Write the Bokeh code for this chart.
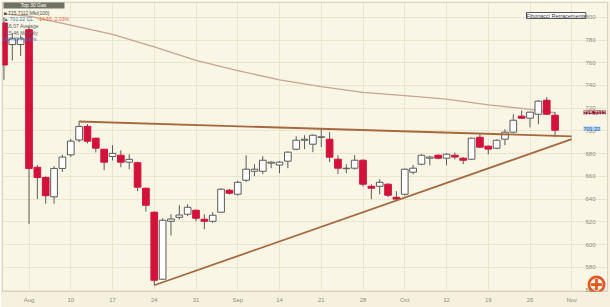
from bokeh.plotting import figure
from bokeh.models import Range1d, FixedTicker, Label, BoxAnnotation, ColumnDataSource
from bokeh.embed import file_html
from bokeh.resources import INLINE

# trading days (weekdays) from Jul 29 to Nov 2
days = ["Jul 29", "Jul 30", "Jul 31",
        "Aug 3", "Aug 4", "Aug 5", "Aug 6", "Aug 7",
        "Aug 10", "Aug 11", "Aug 12", "Aug 13", "Aug 14",
        "Aug 17", "Aug 18", "Aug 19", "Aug 20", "Aug 21",
        "Aug 24", "Aug 25", "Aug 26", "Aug 27", "Aug 28",
        "Aug 31", "Sep 1", "Sep 2", "Sep 3", "Sep 4",
        "Sep 7", "Sep 8", "Sep 9", "Sep 10", "Sep 11",
        "Sep 14", "Sep 15", "Sep 16", "Sep 17", "Sep 18",
        "Sep 21", "Sep 22", "Sep 23", "Sep 24", "Sep 25",
        "Sep 28", "Sep 29", "Sep 30", "Oct 1", "Oct 2",
        "Oct 5", "Oct 6", "Oct 7", "Oct 8", "Oct 9",
        "Oct 12", "Oct 13", "Oct 14", "Oct 15", "Oct 16",
        "Oct 19", "Oct 20", "Oct 21", "Oct 22", "Oct 23",
        "Oct 26", "Oct 27", "Oct 28", "Oct 29", "Oct 30",
        "Nov 2"]

opens = [795, 776, 776,
         789, 668, 659, 642, 667,
         679, 692, 704, 693.6, 683.9,
         677.5, 678.6, 672.5, 672, 649.6,
         628.5, 569.5, 620.5, 624, 626.7,
         630.2, 622.3, 620.5, 628.5, 647.8,
         644.3, 656.6, 664.5, 664.5, 671.6,
         670, 673.4, 683.9, 691.8, 688.3,
         694.4, 692.7, 675.1, 666.8, 667.2,
         674.2, 651.3, 651.3, 653.1, 641.6,
         644.3, 663.7, 670.7, 676, 678.6,
         676, 678.6, 676, 675.1, 694.4,
         686.6, 684.8, 692.7, 698.9, 713,
         711.2, 714.7, 727, 713.8]
highs = [800, 786, 784,
         792, 670, 660, 669, 679,
         693, 708.6, 706, 694, 684,
         687.4, 683, 679.5, 673, 650,
         629, 623, 626.7, 634.6, 635.5,
         631, 626.7, 628.5, 649.5, 649,
         656, 678.6, 670.7, 677.7, 673.4,
         673.5, 682, 695.3, 696.2, 697,
         702, 699, 678.6, 670.7, 678.6,
         675, 653, 657.5, 654, 647,
         667, 670, 679.5, 678, 679.5,
         680.3, 681, 677, 694, 697,
         687, 692.5, 701.5, 714.8, 718,
         717, 727, 729.7, 716.5]
lows = [745, 762, 766,
        618, 640, 636, 636, 664,
        677, 690, 689, 681, 665.5,
        674, 668, 666.3, 647, 629,
        564.2, 569, 608, 622, 625,
        620.5, 613.5, 619, 628, 644,
        643, 655, 660.2, 662, 667.2,
        662.8, 667.2, 683, 683.9, 681.3,
        685.7, 672.5, 662, 662.8, 666,
        651, 640, 644.3, 641.6, 639,
        643, 661.8, 669.8, 669.8, 675,
        669.8, 675, 670.7, 674.5, 685,
        679.5, 684, 687.4, 698, 710.5,
        703.2, 705.8, 714, 694.5]
closes = [758, 781, 781,
          667, 659, 643, 667, 677,
          691, 704, 691, 684.8, 672.5,
          680.3, 672.5, 675, 650.5, 634.6,
          568.6, 621.4, 622.5, 626, 632.8,
          623.1, 620.5, 625.8, 648.7, 645.2,
          654.8, 666.3, 666.3, 674.2, 672.5,
          672.5, 681.3, 691.8, 692.7, 696.2,
          694.8, 676.9, 667.2, 667.2, 674.2,
          653.1, 649.6, 654.8, 643.4, 640.0,
          666.3, 667.2, 678.6, 677, 676,
          679.5, 677, 674.2, 693.6, 685.7,
          684, 691.8, 698.9, 709.4, 711.2,
          716.5, 726.2, 714.7, 700.6]

# moving average, read at sample days
ma_days = ["Jul 29", "Aug 3", "Aug 10", "Aug 17", "Aug 24", "Aug 31", "Sep 7",
           "Sep 14", "Sep 21", "Sep 28", "Oct 5", "Oct 12", "Oct 19", "Oct 26", "Oct 29"]
ma_vals = [803, 801, 793, 785, 774, 762, 753, 745, 739, 734, 731, 728, 723, 719, 716]

# trend lines (day, price)
resist_days = ["Aug 11", "Nov 2"]
resist_vals = [708.3, 695.2]
support_days = ["Aug 24", "Nov 2"]
support_vals = [564.2, 692.7]

tick_days = ["Aug 3", "Aug 10", "Aug 17", "Aug 24", "Aug 31", "Sep 7", "Sep 14",
             "Sep 21", "Sep 28", "Oct 5", "Oct 12", "Oct 19", "Oct 26", "Nov 2"]
tick_labels = ["Aug", "10", "17", "24", "31", "Sep", "14", "21", "28", "Oct",
               "12", "19", "26", "Nov"]
price_ticks = [560, 580, 600, 620, 640, 660, 680, 700, 720, 740, 760, 780, 800]

last_mkt = "715.7112"
last_cl = "701.22"

pos = {d: i for i, d in enumerate(days)}

UP_FILL = "#ffffff"
DOWN_FILL = "#d3123c"
FONT = "Liberation Sans"

p = figure(width=610, height=307, output_backend="svg", toolbar_location=None,
           x_range=Range1d(-0.174, 72.28), y_range=Range1d(558.7, 813.0),
           y_axis_location="right",
           min_border_left=2, min_border_top=2, min_border_right=3, min_border_bottom=16)
p.background_fill_color = "#faf6e6"
p.border_fill_color = "#f6f1de"
p.outline_line_color = "#d9d3bd"

n = len(opens)
xs = list(range(n))
src = ColumnDataSource(dict(
    x=xs,
    top=[max(o, c) for o, c in zip(opens, closes)],
    bottom=[min(o, c) for o, c in zip(opens, closes)],
    high=highs, low=lows,
    fill=[UP_FILL if c >= o else DOWN_FILL for o, c in zip(opens, closes)],
    line=["#5a5a5a" if c >= o else DOWN_FILL for o, c in zip(opens, closes)],
))

p.line([pos[d] for d in ma_days], ma_vals, line_color="#c7a48e", line_width=1.3)
p.segment(x0="x", y0="high", x1="x", y1="low", source=src, line_color="#5a5a5a", line_width=1)
p.vbar(x="x", width=0.8, top="top", bottom="bottom", fill_color="fill",
       line_color="line", line_width=1, source=src)
p.line([pos[d] for d in resist_days], resist_vals, line_color="#a5693d", line_width=1.8)
p.line([pos[d] for d in support_days], support_vals, line_color="#a5693d", line_width=1.8)

tx = [pos[d] for d in tick_days]
p.xaxis.ticker = FixedTicker(ticks=tx)
p.xaxis.major_label_overrides = {t: l for t, l in zip(tx, tick_labels)}
p.yaxis.ticker = FixedTicker(ticks=price_ticks)
for ax in (p.xaxis, p.yaxis):
    ax.axis_line_color = None
    ax.major_tick_line_color = None
    ax.minor_tick_line_color = None
    ax.major_tick_out = 0
    ax.major_tick_in = 0
    ax.major_label_text_font = FONT
    ax.major_label_text_font_size = "6px"
    ax.major_label_text_color = "#8c8c80"
p.xaxis.major_label_standoff = 5
p.yaxis.major_label_standoff = -22
p.xgrid.ticker = FixedTicker(ticks=tx)
p.ygrid.ticker = FixedTicker(ticks=price_ticks)
p.xgrid.grid_line_color = "#ebe5cd"
p.ygrid.grid_line_color = "#ebe5cd"

FH = 289  # frame height in screen units

def sy(y_img):
    return FH - (y_img - 2)

# legend header
p.add_layout(BoxAnnotation(left=1, right=62, top=sy(0), bottom=sy(8),
                           left_units="screen", right_units="screen",
                           top_units="screen", bottom_units="screen",
                           fill_color="#707064", fill_alpha=1, line_color=None))
p.add_layout(Label(x=31, y=sy(4), x_units="screen", y_units="screen", text="Top 30 Gas",
                   text_font=FONT, text_font_size="5px", text_color="#ffffff",
                   text_align="center", text_baseline="middle"))
legend_rows = [
    ("\u25a0 " + last_mkt + " Mkt(100)", "#4a4a4a", 12),
    ("\u25b2 " + last_cl + " CL", "#3a6fb0", 18),
    ("716.07 Average", "#5a5a6a", 25),
    ("715.46 Monthly", "#5a5a6a", 32),
    ("564.69 Fridays", "#3a6fb0", 38),
]
for t, c, y in legend_rows:
    p.add_layout(Label(x=1, y=sy(y), x_units="screen", y_units="screen", text=t,
                       text_font=FONT, text_font_size="5px", text_color=c,
                       text_baseline="middle"))
p.add_layout(Label(x=35, y=sy(18), x_units="screen", y_units="screen", text="-14.55  -2.03%",
                   text_font=FONT, text_font_size="5px", text_color="#e0643a",
                   text_baseline="middle"))

# Fibonacci box
p.add_layout(Label(x=524, y=sy(15), x_units="screen", y_units="screen",
                   text="Fibonacci Retracements", text_font=FONT, text_font_size="5.5px",
                   text_color="#333333", text_baseline="middle",
                   background_fill_color="#ffffff", border_line_color="#555555"))

# price tags
p.add_layout(Label(x=581, y=sy(112), x_units="screen", y_units="screen", text=last_mkt,
                   text_font=FONT, text_font_size="5.5px", text_color="#ffffff",
                   text_baseline="middle", background_fill_color="#8e1f33"))
p.add_layout(Label(x=581, y=sy(128), x_units="screen", y_units="screen", text=last_cl,
                   text_font=FONT, text_font_size="5.5px", text_color="#2a5fa8",
                   text_baseline="middle", background_fill_color="#a9cdf5"))

# zoom icon
p.add_layout(Label(x=594, y=sy(283), x_units="screen", y_units="screen", text="\u2295",
                   text_font="DejaVu Sans", text_font_size="27px", text_font_style="bold",
                   text_color="#e4561f", text_align="center", text_baseline="middle"))

open("out.html", "w").write(file_html(p, INLINE))
